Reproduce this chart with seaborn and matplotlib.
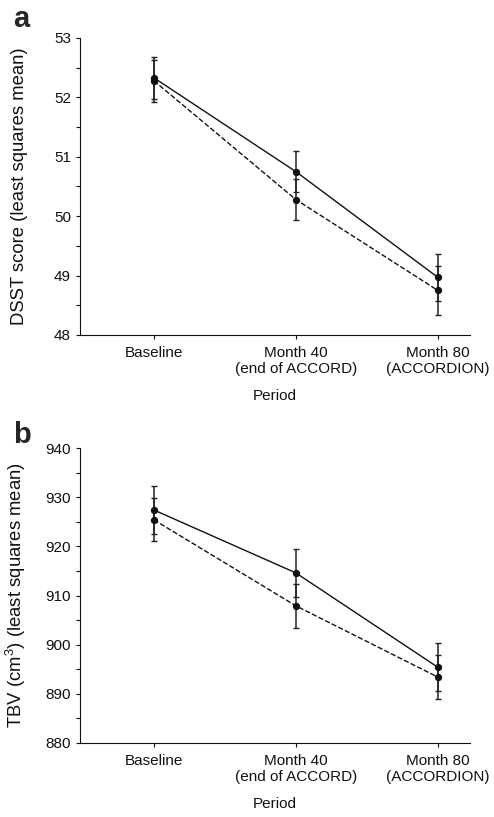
import numpy as np
import pandas as pd
import matplotlib
matplotlib.use("Agg")
import matplotlib.pyplot as plt
import seaborn as sns
from matplotlib.ticker import MultipleLocator

# categories (x axis)
periods = ["Baseline", "Month 40\n(end of ACCORD)", "Month 80\n(ACCORDION)"]
groups = ["Group 1", "Group 2"]  # solid, dashed

# panel a: DSST score (least squares mean) and half error bar
dsst_g1 = [52.33, 50.75, 48.97]
dsst_g1_err = [0.35, 0.35, 0.40]
dsst_g2 = [52.28, 50.28, 48.75]
dsst_g2_err = [0.35, 0.35, 0.41]

# panel b: TBV (cm3) (least squares mean) and half error bar
tbv_g1 = [927.4, 914.6, 895.4]
tbv_g1_err = [4.9, 4.9, 4.9]
tbv_g2 = [925.4, 907.9, 893.4]
tbv_g2_err = [4.4, 4.5, 4.5]

sns.set_theme(style="ticks")
plt.rcParams["font.family"] = ["Liberation Sans", "DejaVu Sans"]
plt.rcParams["mathtext.default"] = "regular"


def long_frame(v1, e1, v2, e2):
    return pd.DataFrame({
        "period": periods * 2,
        "group": [groups[0]] * 3 + [groups[1]] * 3,
        "value": v1 + v2,
        "err": e1 + e2,
    })


def draw_panel(ax, df, ylim, major, minor, ylabel):
    sns.pointplot(data=df, x="period", y="value", hue="group", order=periods,
                  hue_order=groups, palette=["#111111", "#111111"],
                  linestyles=["-", "--"], markers=["o", "o"], errorbar=None,
                  dodge=False, legend=False, ax=ax,
                  markersize=4.5, linewidth=1.0)
    xpos = np.arange(len(periods))
    for g in groups:
        sub = df[df["group"] == g].set_index("period").loc[periods]
        ax.errorbar(xpos, sub["value"], yerr=sub["err"], fmt="none",
                    ecolor="#222222", elinewidth=1.1, capsize=2.5,
                    capthick=1.0, zorder=1)
    ax.set_xlim(-0.52, 2.225)
    ax.set_ylim(*ylim)
    ax.yaxis.set_major_locator(MultipleLocator(major))
    ax.yaxis.set_minor_locator(MultipleLocator(minor))
    ax.tick_params(axis="both", which="both", direction="out", length=3,
                   width=0.8, labelsize=11, colors="#111111")
    ax.tick_params(axis="x", pad=5)
    ax.set_xlabel("Period", fontsize=11, labelpad=9, color="#111111")
    ax.set_ylabel(ylabel, fontsize=13.3, color="#111111")
    ax.yaxis.set_label_coords(-0.133, 0.5)
    for s in ["left", "bottom"]:
        ax.spines[s].set_linewidth(0.8)
        ax.spines[s].set_color("#111111")
    sns.despine(ax=ax)


fig = plt.figure(figsize=(4.94, 8.17), dpi=100)
ax_a = fig.add_axes([0.162, 0.590, 0.789, 0.3635])
ax_b = fig.add_axes([0.162, 0.0906, 0.789, 0.361])

draw_panel(ax_a, long_frame(dsst_g1, dsst_g1_err, dsst_g2, dsst_g2_err),
           (48, 53), 1, 0.5, "DSST score (least squares mean)")
draw_panel(ax_b, long_frame(tbv_g1, tbv_g1_err, tbv_g2, tbv_g2_err),
           (880, 940), 10, 5, "TBV (cm$^3$) (least squares mean)")

fig.text(0.026, 1 - 27 / 817, "a", fontsize=21, fontweight="bold", va="baseline")
fig.text(0.026, 1 - 443 / 817, "b", fontsize=21, fontweight="bold", va="baseline")

fig.savefig("out.png", dpi=100)
